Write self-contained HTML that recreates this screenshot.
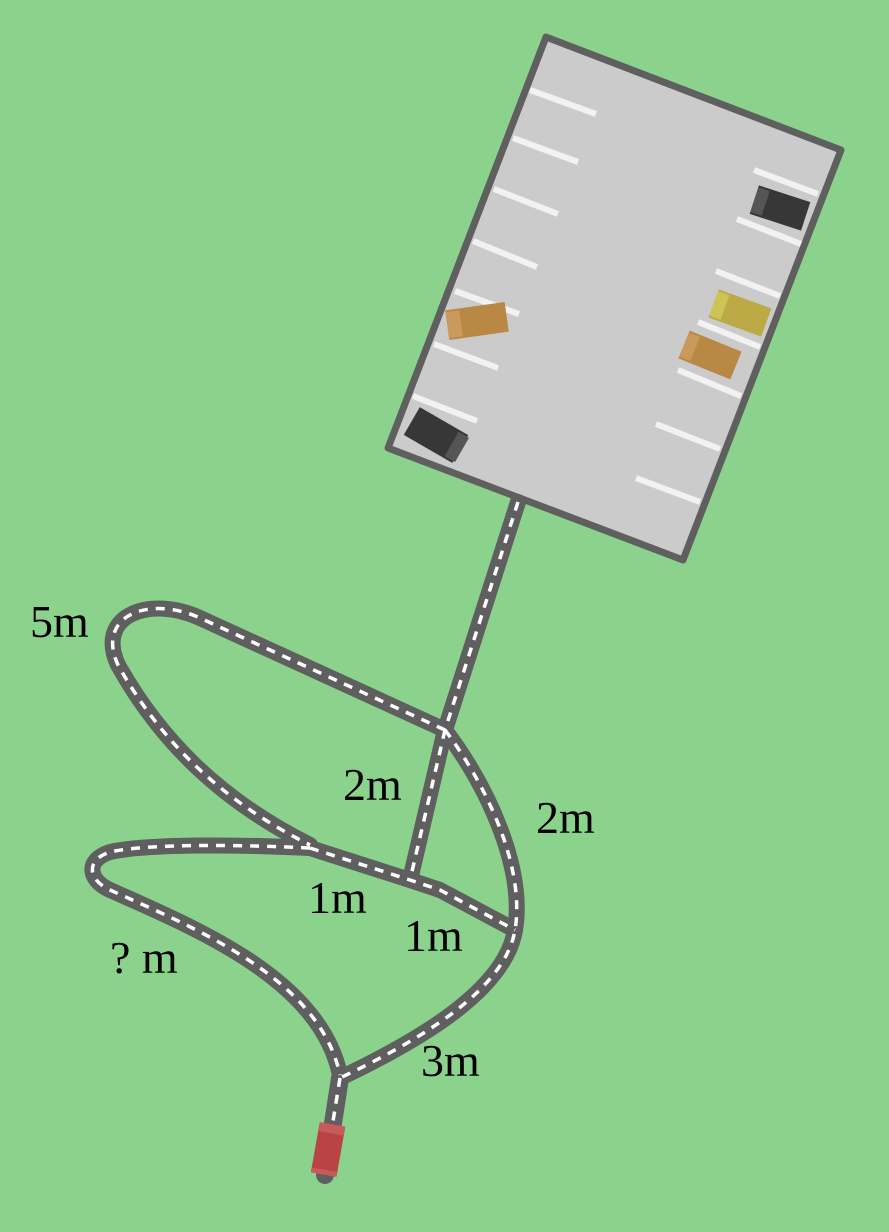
<!DOCTYPE html>
<html><head><meta charset="utf-8"><style>html,body{margin:0;padding:0;background:#8bd38d}svg{display:block}text{font-family:"Liberation Serif",serif;font-size:46px;fill:#000}</style></head>
<body>
<svg width="889" height="1232" viewBox="0 0 889 1232">
<rect width="889" height="1232" fill="#8bd38d"/>
<g>
<polygon points="546,37 841,150 683,560 388,448" fill="#cbcbcb" stroke="#5f5f5f" stroke-width="7" stroke-linejoin="round"/>
<g stroke="#f2f2f2" stroke-width="6">
<line x1="530" y1="90" x2="596" y2="114"/><line x1="513" y1="138" x2="578" y2="162"/><line x1="494" y1="189" x2="558" y2="214"/><line x1="473" y1="241" x2="537" y2="267"/><line x1="455" y1="291" x2="519" y2="314"/><line x1="434" y1="344" x2="498" y2="368"/><line x1="413" y1="396" x2="477" y2="421"/>
<line x1="754" y1="170" x2="818" y2="194"/><line x1="737" y1="219" x2="801" y2="244"/><line x1="716" y1="271" x2="780" y2="296"/><line x1="698" y1="322" x2="760" y2="347"/><line x1="678" y1="370" x2="741" y2="396"/><line x1="656" y1="424" x2="720" y2="449"/><line x1="636" y1="478" x2="700" y2="502"/>
</g>
<g transform="translate(477,321) rotate(-8)"><rect x="-30" y="-15" width="60" height="30" fill="#b98845"/><rect x="-30" y="-13" width="14" height="26" fill="#c99a5c"/></g>
<g transform="translate(436,435) rotate(30)"><rect x="-28" y="-16" width="56" height="32" fill="#373737"/><rect x="18" y="-14" width="12" height="28" fill="#555"/></g>
<g transform="translate(780,208) rotate(18)"><rect x="-27" y="-15" width="54" height="30" fill="#373737"/><rect x="-27" y="-13" width="12" height="26" fill="#555"/></g>
<g transform="translate(740,313) rotate(20)"><rect x="-28" y="-15" width="56" height="30" fill="#bbaa45"/><rect x="-28" y="-13" width="12" height="26" fill="#ccc455"/></g>
<g transform="translate(710,355) rotate(22)"><rect x="-28" y="-15" width="56" height="30" fill="#b98845"/><rect x="-28" y="-13" width="12" height="26" fill="#c99a5c"/></g>
</g>
<g fill="none" stroke-linecap="round" stroke-linejoin="round">
<g stroke="#5f5f5f" stroke-width="16">
<path d="M518,502 L445,730"/><path d="M445,730 L410,880"/>
<path d="M445,730 L200,618 C150,595 95,615 118,665 C160,740 220,800 310,845"/>
<path d="M310,848 C250,845 150,843 110,852 C85,860 88,880 110,890 C200,930 320,980 340,1075"/>
<path d="M310,848 L410,880 L440,890 L515,930"/>
<path d="M445,730 C490,790 525,870 515,930 C505,990 420,1040 340,1078"/>
<path d="M340,1078 L325,1175" stroke-width="18"/>
</g>
<g stroke="#fff" stroke-width="3.5" stroke-dasharray="9 8" stroke-linecap="butt">
<path d="M518,502 L445,730"/><path d="M445,730 L410,880"/>
<path d="M445,730 L200,618 C150,595 95,615 118,665 C160,740 220,800 310,845"/>
<path d="M310,848 C250,845 150,843 110,852 C85,860 88,880 110,890 C200,930 320,980 340,1075"/>
<path d="M310,848 L410,880 L440,890 L515,930"/>
<path d="M445,730 C490,790 525,870 515,930 C505,990 420,1040 340,1078"/>
<path d="M340,1078 L330,1140"/>
</g>
</g>
<g transform="translate(328,1150) rotate(10)"><rect x="-13" y="-24" width="26" height="48" fill="#b84444"/><rect x="-13" y="-26" width="26" height="9" fill="#c75a5a"/><rect x="-13" y="20" width="26" height="5" fill="#c75a5a"/></g>
<g>
<text x="30" y="637">5m</text>
<text x="343" y="800">2m</text>
<text x="536" y="833">2m</text>
<text x="308" y="913">1m</text>
<text x="404" y="951">1m</text>
<text x="110" y="973">? m</text>
<text x="421" y="1076">3m</text>
</g>
</svg>
</body></html>
